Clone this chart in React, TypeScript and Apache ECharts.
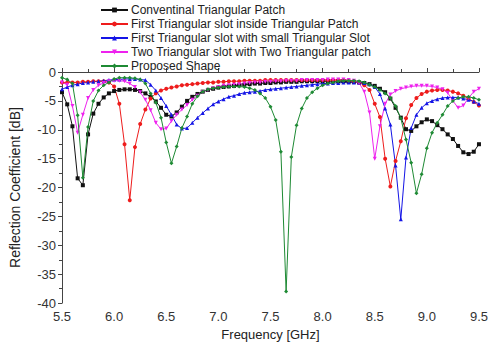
import React, { useEffect, useRef } from "react";
import * as echarts from "echarts";

const freq = [
  5.5, 5.55, 5.6, 5.65, 5.7, 5.75, 5.8, 5.85, 5.9, 5.95,
  6.0, 6.05, 6.1, 6.15, 6.2, 6.25, 6.3, 6.35, 6.4, 6.45,
  6.5, 6.55, 6.6, 6.65, 6.7, 6.75, 6.8, 6.85, 6.9, 6.95,
  7.0, 7.05, 7.1, 7.15, 7.2, 7.25, 7.3, 7.35, 7.4, 7.45,
  7.5, 7.55, 7.6, 7.65, 7.7, 7.75, 7.8, 7.85, 7.9, 7.95,
  8.0, 8.05, 8.1, 8.15, 8.2, 8.25, 8.3, 8.35, 8.4, 8.45,
  8.5, 8.55, 8.6, 8.65, 8.7, 8.75, 8.8, 8.85, 8.9, 8.95,
  9.0, 9.05, 9.1, 9.15, 9.2, 9.25, 9.3, 9.35, 9.4, 9.45,
  9.5,
];

const conventional = [
  -3.5, -5.6, -9.4, -18.4, -19.6, -10.8, -7.2, -5.5, -4.4, -3.7,
  -3.3, -3.1, -3.0, -3.0, -3.1, -3.3, -3.7, -4.3, -5.1, -6.2,
  -7.4, -7.7, -7.0, -6.0, -5.0, -4.3, -3.8, -3.4, -3.1, -2.9,
  -2.7, -2.6, -2.5, -2.4, -2.3, -2.2, -2.1, -2.0, -2.0, -1.9,
  -1.9, -1.8, -1.8, -1.7, -1.7, -1.7, -1.6, -1.6, -1.6, -1.6,
  -1.6, -1.6, -1.6, -1.6, -1.6, -1.7, -1.7, -1.8, -1.9, -2.1,
  -2.4, -2.9, -3.5, -4.6, -6.2, -7.9, -9.9, -10.2, -9.4, -8.7,
  -8.2, -8.5, -9.2, -9.9, -10.8, -11.6, -12.8, -13.9, -14.2, -13.8,
  -12.5,
];

const firstSlot = [
  -1.8, -1.8, -1.8, -1.8, -1.7, -1.7, -1.6, -1.6, -1.6, -1.8,
  -2.5, -5.5, -12.5, -22.2, -13.0, -9.0, -6.5, -4.6, -3.7, -3.2,
  -2.9, -2.7, -2.5, -2.3, -2.2, -2.1, -2.0, -1.9, -1.8, -1.8,
  -1.7, -1.7, -1.6, -1.6, -1.6, -1.5, -1.5, -1.5, -1.5, -1.4,
  -1.4, -1.4, -1.4, -1.4, -1.4, -1.4, -1.4, -1.4, -1.4, -1.4,
  -1.4, -1.4, -1.4, -1.4, -1.4, -1.5, -1.6, -1.8, -2.3, -3.1,
  -5.5, -7.8, -15.0, -19.8, -15.4, -12.0, -8.0, -5.7, -4.5, -3.8,
  -3.4, -3.2, -3.1, -3.1, -3.2, -3.4, -3.7, -4.1, -4.6, -5.2,
  -5.8,
];

const smallSlot = [
  -3.0, -2.6, -2.3, -2.1, -1.9, -1.8, -1.7, -1.6, -1.5, -1.4,
  -1.3, -1.3, -1.2, -1.2, -1.2, -1.3, -1.4, -2.2, -3.2, -4.5,
  -5.9, -7.4, -9.1, -9.8, -9.7, -8.8, -7.9, -7.1, -6.3, -5.6,
  -5.1, -4.7, -4.3, -4.1, -3.8, -3.6, -3.5, -3.4, -3.3, -3.1,
  -3.0, -2.9, -2.8, -2.7, -2.6, -2.5, -2.4, -2.3, -2.2, -2.1,
  -2.0, -2.0, -1.9, -1.9, -1.8, -1.8, -1.8, -1.8, -1.9, -2.1,
  -2.6, -3.8, -6.3, -9.1, -16.2, -25.5, -14.8, -9.7, -7.4, -6.2,
  -5.4, -5.0, -4.7, -4.5, -4.4, -4.4, -4.4, -4.6, -4.8, -5.1,
  -5.5,
];

const twoSlot = [
  -1.8, -2.2, -5.9, -10.5, -7.4, -4.5, -3.1, -2.3, -1.9, -1.6,
  -1.5, -1.5, -1.6, -2.0, -2.6, -3.5, -4.8, -6.6, -8.8, -9.9,
  -9.8, -8.5, -7.4, -6.5, -5.7, -4.8, -4.1, -3.5, -3.1, -2.8,
  -2.6, -2.4, -2.3, -2.2, -2.1, -2.0, -1.9, -1.8, -1.8, -1.7,
  -1.7, -1.6, -1.6, -1.5, -1.5, -1.5, -1.4, -1.4, -1.4, -1.4,
  -1.4, -1.3, -1.3, -1.3, -1.3, -1.4, -1.5, -1.9, -3.4, -7.0,
  -15.0, -9.4, -5.5, -3.9, -3.3, -2.9, -2.7, -2.5, -2.4, -2.4,
  -2.4, -2.5, -2.7, -3.0, -3.6, -5.0, -6.2, -5.8, -4.5, -3.4,
  -2.9,
];

const proposed = [
  -1.0, -1.3, -2.0, -7.5, -18.3, -9.5, -5.0, -3.2, -2.3, -1.8,
  -1.2, -1.0, -1.0, -1.0, -1.1, -1.3, -2.0, -3.7, -5.3, -7.9,
  -12.2, -15.8, -12.9, -9.7, -7.7, -5.5, -4.2, -3.4, -3.0, -2.8,
  -2.7, -2.6, -2.5, -2.5, -2.5, -2.6, -2.8, -3.1, -3.7, -4.5,
  -6.0, -8.3, -13.8, -38.0, -14.7, -9.2, -6.3, -4.5, -3.5, -2.8,
  -2.3, -2.0, -1.8, -1.6, -1.5, -1.5, -1.5, -1.6, -1.8, -2.2,
  -2.6, -3.1, -3.7, -4.5, -5.9, -8.0, -11.7, -15.7, -21.0, -17.7,
  -13.2, -10.5, -8.8, -7.4, -5.9, -5.0, -4.5, -4.3, -4.3, -4.5,
  -4.8,
];

const seriesNames = [
  "Conventinal Triangular Patch",
  "First Triangular slot inside Triangular Patch",
  "First Triangular slot with small Triangular Slot",
  "Two Triangular slot with Two Triangular patch",
  "Proposed Shape",
];
const seriesValues = [conventional, firstSlot, smallSlot, twoSlot, proposed];
const seriesColors = ["#111111", "#ee1c1c", "#1414e6", "#ee22ee", "#1e8a34"];
const seriesSymbols = ["rect", "circle", "triangle", "triangle", "diamond"];
const seriesRotate = [0, 0, 0, 180, 0];

const yTicks = [0, -5, -10, -15, -20, -25, -30, -35, -40];

export default function App() {
  const ref = useRef<HTMLDivElement>(null);
  useEffect(() => {
    if (!ref.current) return;
    const chart = echarts.init(ref.current, null, { renderer: "svg" });
    const font = "Arial, 'Liberation Sans', sans-serif";
    chart.setOption({
      animation: false,
      backgroundColor: "#ffffff",
      textStyle: { fontFamily: font },
      legend: {
        orient: "vertical",
        left: 95,
        top: -1,
        itemWidth: 27,
        itemHeight: 6,
        itemGap: 2,
        textStyle: {
          fontSize: 12,
          color: "#222",
          fontFamily: font,
          lineHeight: 12,
          padding: [0, 0, 0, -2],
        },
        data: seriesNames,
      },
      grid: { left: 61, right: 9, top: 72, bottom: 40 },
      xAxis: {
        type: "value",
        min: 5.5,
        max: 9.5,
        interval: 0.5,
        name: "Frequency [GHz]",
        nameLocation: "middle",
        nameGap: 23,
        nameTextStyle: { fontSize: 13, color: "#222", fontFamily: font },
        axisLine: { lineStyle: { color: "#444", width: 1 } },
        axisTick: { show: true, inside: true, length: 4, lineStyle: { color: "#444" } },
        minorTick: { show: true, splitNumber: 2, length: 3, lineStyle: { color: "#444" } },
        splitLine: { show: false },
        axisLabel: {
          fontSize: 13,
          color: "#333",
          margin: 7,
          formatter: (v: number) => v.toFixed(1),
        },
      },
      yAxis: {
        type: "value",
        min: -40,
        max: 0,
        interval: 5,
        name: "Reflection Coefficient [dB]",
        nameLocation: "middle",
        nameGap: 40,
        nameTextStyle: { fontSize: 14, color: "#222", fontFamily: font },
        axisLine: { show: true, lineStyle: { color: "#444", width: 1 } },
        axisTick: { show: true, length: 4, lineStyle: { color: "#444" } },
        minorTick: { show: true, splitNumber: 2, length: 3, lineStyle: { color: "#444" } },
        splitLine: { show: false },
        axisLabel: {
          fontSize: 13,
          color: "#333",
          margin: 6,
          formatter: (v: number) => (yTicks.includes(v) ? String(v) : ""),
        },
      },
      series: seriesNames.map((name, i) => ({
        name,
        type: "line",
        data: freq.map((f, j) => [f, seriesValues[i][j]]),
        symbol: seriesSymbols[i],
        symbolRotate: seriesRotate[i],
        symbolSize: 4,
        showAllSymbol: true,
        lineStyle: { width: 1, color: seriesColors[i] },
        itemStyle: { color: seriesColors[i] },
        z: i === 4 ? 3 : 2,
      })),
    });
    return () => chart.dispose();
  }, []);
  return (
    <div
      ref={ref}
      style={{ position: "fixed", left: 0, top: 0, width: 491, height: 346 }}
    />
  );
}
